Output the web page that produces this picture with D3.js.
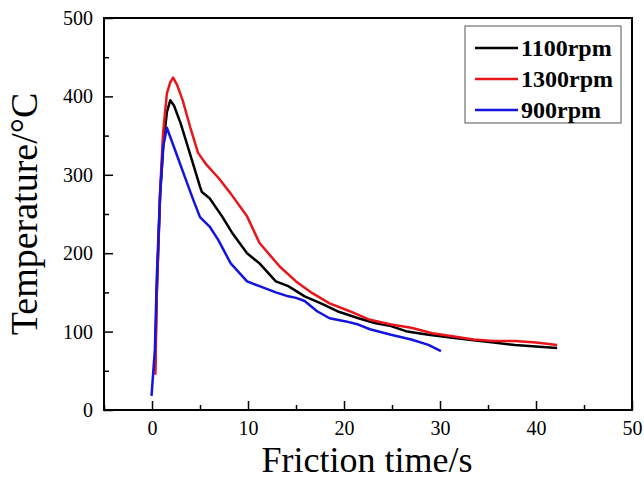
<!DOCTYPE html>
<html>
<head>
<meta charset="utf-8">
<script src="https://cdn.jsdelivr.net/npm/d3@7"></script>
<style>
  body { margin: 0; background: #fff; }
  text { font-family: "Liberation Serif", "Times New Roman", serif; }
</style>
</head>
<body>
<svg id="chart" width="644" height="480"></svg>
<script>
// series data (time in s, temperature in C)
var t1100 = [0.3, 0.5, 0.85, 1.2, 1.55, 1.9, 2.3, 3.0, 4.0, 5.0, 5.2, 6.0, 7.3, 8.4, 9.9, 11.2, 12.9, 14.2, 15.9, 17.6, 19.3, 21.5, 23.2, 24.9, 26.6, 28.8, 31.3, 33.5, 35.6, 37.8, 40.0, 42.2];
var T1100 = [50, 150, 275, 340, 380, 395, 388, 365, 325, 285, 278, 270, 247, 225, 200, 187, 164, 158, 145, 136, 126, 117, 111, 107, 100, 96, 92, 89, 86, 83, 81, 79];

var t1300 = [0.35, 0.5, 0.85, 1.15, 1.55, 1.9, 2.2, 2.6, 3.2, 4.0, 4.8, 5.6, 7.0, 8.2, 9.9, 11.2, 13.3, 15.0, 16.7, 18.5, 20.6, 22.7, 24.9, 27.0, 29.2, 31.3, 33.5, 35.6, 37.8, 40.0, 42.2];
var T1300 = [45, 150, 280, 353, 404, 418, 424, 415, 395, 360, 328, 314, 295, 276, 247, 213, 183, 164, 149, 136, 126, 115, 109, 105, 98, 94, 90, 88, 88, 86, 83];

var t900 = [-0.05, 0.3, 0.5, 0.85, 1.15, 1.55, 2.0, 2.6, 3.4, 4.3, 5.0, 6.0, 6.9, 8.2, 9.9, 11.2, 12.9, 14.2, 15.0, 15.9, 17.2, 18.5, 20.2, 21.5, 22.7, 24.9, 27.0, 28.8, 30.1];
var T900 = [18, 77, 170, 277, 335, 360, 345, 325, 298, 268, 246, 234, 217, 187, 164, 158, 150, 145, 143, 139, 126, 117, 113, 109, 103, 96, 90, 83, 75];

var seriesNames = ["1100rpm", "1300rpm", "900rpm"];
var seriesColors = ["#000000", "#e8161b", "#1414e0"];
var xTicks = [0, 10, 20, 30, 40, 50];
var yTicks = [0, 100, 200, 300, 400, 500];

var svg = d3.select("#chart"),
	margin = {top: 18, left: 104, bottom: 70, right: 12},
	width = +svg.attr("width"),
	height = +svg.attr("height");

var x = d3.scaleLinear()
	.domain([-5, 50])
	.range([margin.left, width - margin.right]);

var y = d3.scaleLinear()
	.domain([0, 500])
	.range([height - margin.bottom, margin.top]);

function zip(ts, vs) { return ts.map((t, i) => ({t: t, v: vs[i]})); }
var series = [zip(t1100, T1100), zip(t1300, T1300), zip(t900, T900)];

// minor ticks
var xMinor = svg.append("g")
	.attr("transform", `translate(0,${y(0)})`)
	.call(d3.axisBottom(x).tickValues([-5, 5, 15, 25, 35, 45]).tickSize(-5).tickFormat(""));
var yMinor = svg.append("g")
	.attr("transform", `translate(${x(-5)},0)`)
	.call(d3.axisLeft(y).tickValues([50, 150, 250, 350, 450]).tickSize(-5).tickFormat(""));

var xAxis = svg.append("g")
	.attr("class", "x-axis")
	.attr("transform", `translate(0,${y(0)})`)
	.call(d3.axisBottom(x).tickValues(xTicks).tickSize(-9).tickPadding(11));

var yAxis = svg.append("g")
	.attr("class", "y-axis")
	.attr("transform", `translate(${x(-5)},0)`)
	.call(d3.axisLeft(y).tickValues(yTicks).tickSize(-9).tickPadding(11));

svg.selectAll(".domain").remove();
svg.selectAll(".tick line").attr("stroke", "#000").attr("stroke-width", 1.5);
svg.selectAll(".x-axis text, .y-axis text")
	.style("font-size", "20px")
	.attr("fill", "#000")
	.style("font-family", "Liberation Serif");

// lines
var line = d3.line()
	.x(d => x(d.t))
	.y(d => y(d.v));

svg.selectAll(".series")
	.data(series)
	.enter().append("path")
	.attr("class", "series")
	.attr("fill", "none")
	.attr("stroke", (d, i) => seriesColors[i])
	.attr("stroke-width", 2.5)
	.attr("stroke-linejoin", "round")
	.attr("d", line);

// frame
svg.append("rect")
	.attr("x", x(-5))
	.attr("y", y(500))
	.attr("width", x(50) - x(-5))
	.attr("height", y(0) - y(500))
	.attr("fill", "none")
	.attr("stroke", "#000")
	.attr("stroke-width", 2);

// legend
var legend = svg.append("g").attr("class", "legend");
legend.append("rect")
	.attr("x", 465).attr("y", 26)
	.attr("width", 156).attr("height", 97)
	.attr("fill", "#fff")
	.attr("stroke", "#555")
	.attr("stroke-width", 1);

var items = legend.selectAll(".item")
	.data(seriesNames)
	.enter().append("g")
	.attr("class", "item")
	.attr("transform", (d, i) => `translate(0,${48 + i * 31})`);

items.append("line")
	.attr("x1", 475).attr("x2", 518)
	.attr("stroke", (d, i) => seriesColors[i])
	.attr("stroke-width", 2.5);

items.append("text")
	.attr("x", 521)
	.attr("dy", "0.35em")
	.style("font-size", "24px")
	.style("font-weight", "bold")
	.text(d => d);

// axis titles
svg.append("text")
	.attr("x", 367)
	.attr("y", 472)
	.attr("text-anchor", "middle")
	.style("font-size", "36px")
	.text("Friction time/s");

svg.append("text")
	.attr("transform", `translate(37,214) rotate(-90)`)
	.attr("text-anchor", "middle")
	.style("font-size", "38px")
	.text("Temperature/\u00b0C");
</script>
</body>
</html>
